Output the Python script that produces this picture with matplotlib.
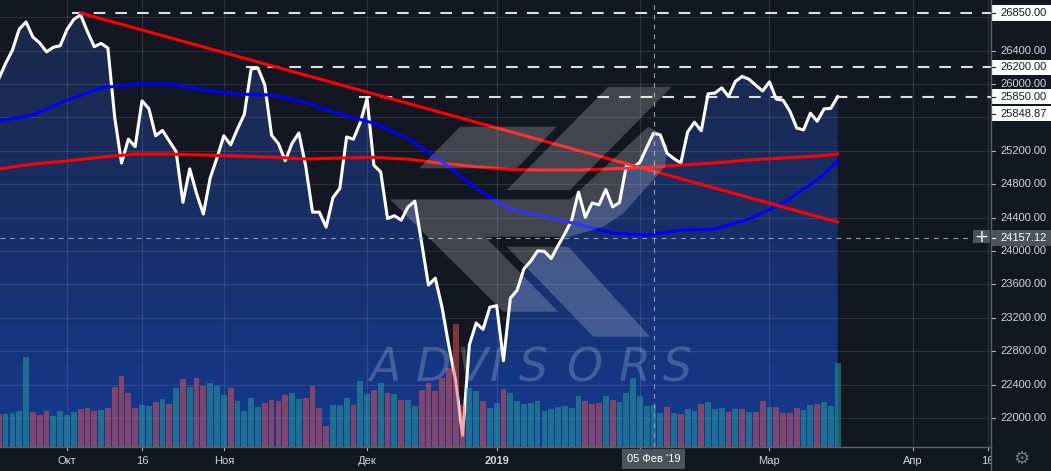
import numpy as np
import matplotlib
matplotlib.use("Agg")
import matplotlib.pyplot as plt
from matplotlib.patches import Polygon, Rectangle
from matplotlib.lines import Line2D
from matplotlib.colors import LinearSegmentedColormap
import matplotlib.transforms as mtransforms

plt.rcParams['font.family'] = ['Liberation Sans', 'DejaVu Sans']
plt.rcParams['lines.scale_dashes'] = False

# ---------------- data ----------------
START_DATE = '2018-09-17'
HOLIDAYS = ['2018-11-22', '2018-12-05', '2018-12-25', '2019-01-01',
            '2019-01-21', '2019-02-18']

# daily closes, 2018-09-17 .. 2019-03-15 (trading days)
closes = [
    26062, 26246, 26405, 26657, 26743, 26562, 26492, 26385, 26440, 26458,
    26651, 26774, 26828, 26627, 26447, 26487, 26431, 25599, 25053, 25340,
    25250, 25798, 25706, 25380, 25444, 25317, 25191, 24583, 24984, 24688,
    24443, 24875, 25116,
    25380, 25271, 25462, 25636, 26180, 26191, 25989, 25387, 25286, 25081,
    25289, 25413, 25018, 24466, 24465, 24286, 24640, 24749, 25366, 25339,
    25538,
    25826, 25027, 24947, 24389, 24423, 24370, 24527, 24597, 24100, 23592,
    23675, 23323, 22859, 22445, 21792, 22878, 23138, 23062, 23327,
    23346, 22686, 23433, 23531, 23787, 23879, 24001, 23996, 23910, 24065,
    24207, 24370, 24706, 24404, 24575, 24553, 24737, 24528, 24579, 25014,
    24999,
    25064, 25239, 25411, 25390, 25169, 25106, 25053, 25425, 25543, 25439,
    25883, 25891, 25954, 25850, 26031, 26091, 26057, 25985, 25916,
    26026, 25819, 25806, 25673, 25473, 25450, 25650, 25554, 25702, 25709,
    25849,
]

# volume (relative units) and candle direction (1 = up, 0 = down)
volumes = [
    33, 33, 34, 36, 90, 35, 32, 36, 31, 36, 32,
    35, 38, 39, 36, 37, 39, 60, 71, 54, 39,
    42, 41, 45, 48, 43, 59, 68, 60, 69, 61,
    64, 61, 52, 59, 46, 36, 49, 40, 44, 47,
    46, 52, 54, 48, 49, 61, 39, 21, 42, 42,
    49, 42, 66, 53, 57, 64, 54, 53, 47, 47,
    41, 57, 64, 56, 69, 79, 123, 42, 59, 56,
    46, 39, 44, 58, 54, 46, 43, 44, 46, 36,
    38, 40, 41, 39, 51, 46, 43, 44, 51, 47,
    45, 54, 69, 51, 41, 42, 34, 40, 34, 33,
    38, 36, 43, 45, 38, 39, 35, 38, 38, 35,
    35, 46, 40, 40, 34, 34, 39, 37, 42, 43,
    45, 41, 84,
]
vol_up = [
    0, 1, 1, 1, 1, 0, 0, 0, 1, 1, 1,
    1, 0, 0, 0, 1, 0, 0, 0, 0, 0,
    1, 1, 0, 1, 0, 1, 0, 1, 0, 0,
    1, 1, 1, 0, 1, 1, 1, 1, 0, 0,
    0, 0, 1, 1, 0, 0, 0, 0, 1, 1,
    1, 0, 1, 1, 0, 1, 0, 1, 0, 1,
    1, 0, 0, 0, 0, 0, 0, 0, 1, 1,
    0, 1, 1, 0, 1, 1, 1, 1, 1, 1,
    1, 1, 1, 1, 1, 0, 0, 0, 1, 0,
    1, 1, 1, 1, 1, 1, 1, 0, 1, 0,
    1, 1, 0, 1, 1, 1, 0, 1, 0, 1,
    0, 0, 1, 0, 0, 0, 0, 1, 1, 0,
    1, 1, 1,
]

# moving averages sampled every 5 trading days
ma_idx = [0, 5, 10, 15, 20, 25, 30, 35, 40, 45, 50, 55, 60, 65, 70, 75,
          80, 85, 90, 95, 100, 105, 110, 115, 120, 123]
ma_blue = [25557, 25628, 25808, 25952, 26000, 26000, 25930, 25880, 25868,
           25780, 25640, 25530, 25350, 25070, 24750, 24500, 24414, 24320,
           24215, 24190, 24250, 24263, 24383, 24575, 24850, 25078]
ma_red = [24982, 25042, 25078, 25125, 25161, 25161, 25149, 25137, 25125,
          25102, 25113, 25121, 25100, 25050, 25010, 24975, 24970, 24970,
          24985, 25000, 25030, 25055, 25090, 25113, 25137, 25161]

# drawn trend line and horizontal levels
trend_idx = [12, 123]
trend_val = [26850, 24347]
level_vals = [26850, 26200, 25850]
level_from = [10.8, 36.3, 52.8]

price_ticks = [22000, 22400, 22800, 23200, 23600, 24000, 24400, 24800,
               25200, 25600, 26000, 26400, 26800]
time_tick_dates = ['2018-10-01', '2018-10-16', '2018-11-01', '2018-12-03',
                   '2019-01-02', '2019-02-01', '2019-03-01', '2019-04-01',
                   '2019-04-16']
time_tick_labels = ['Окт', '16', 'Ноя', 'Дек', '2019', 'Фев', 'Мар', 'Апр', '16']

cross_date = '2019-02-05'
cross_date_label = "05 Фев '19"
cross_price = 24157.12
last_price = 25848.87


def tidx(d):
    return int(np.busday_count(START_DATE, d, holidays=HOLIDAYS))


# ---------------- layout ----------------
W, H = 1051, 471
PW, PH, AH = 991, 447, 24
BG = '#131722'
TXT = '#d1d4dc'
X0, X1 = 0.18, 145.48
Y0, Y1 = 21653, 27006
ppx = (Y1 - Y0) / PH  # price units per pixel
xpx = (X1 - X0) / PW  # index units per pixel

fig = plt.figure(figsize=(W / 100, H / 100), dpi=100, facecolor=BG)
ax = fig.add_axes([0, AH / H, PW / W, PH / H])
ax.set_facecolor(BG)

x = np.arange(len(closes))

# gradient area under price
fill_poly = Polygon([(x[0], Y0)] + list(zip(x, closes)) + [(x[-1], Y0)],
                    closed=True, transform=ax.transData, fc='none', ec='none')
ax.add_patch(fill_poly)
grad = np.linspace(0, 1, 256).reshape(-1, 1)
cmap = LinearSegmentedColormap.from_list('tvfill', ['#143a91', '#182f66', '#1b2747'])
im = ax.imshow(grad, extent=[X0, X1, Y0, Y1], origin='lower', cmap=cmap,
               aspect='auto', zorder=1, interpolation='bilinear')
im.set_clip_path(fill_poly)

# grid
ax.set_xticks([tidx(d) for d in time_tick_dates])
ax.set_yticks(price_ticks)
ax.grid(True, color='white', alpha=0.11, lw=0.8)
ax.set_axisbelow(False)
ax.tick_params(length=0, labelbottom=False, labelleft=False)
for s in ax.spines.values():
    s.set_visible(False)

# lines
ax.plot(x, closes, color='white', lw=2.2, zorder=4)
ax.plot(ma_idx, ma_red, color='#ff0000', lw=2.2, zorder=5)
ax.plot(ma_idx, ma_blue, color='#0000ff', lw=2.2, zorder=5)
ax.plot(trend_idx, trend_val, color='#ff0000', lw=2.2, zorder=5)
for v, f in zip(level_vals, level_from):
    ax.plot([f, X1], [v, v], color='#dedede', lw=1.5, dashes=(8.4, 7.2), zorder=3.5)
ax.set_xlim(X0, X1)
ax.set_ylim(Y0, Y1)

# volume
axv = ax.twinx()
vcol = ['#26a69a' if u else '#ef5350' for u in vol_up]
axv.bar(x, volumes, width=0.85, color=vcol, alpha=0.5, zorder=2)
axv.axis('off')

# crosshair
ci = tidx(cross_date)
axv.axvline(ci, color='#9598a1', lw=0.8, dashes=(3.5, 3.5), zorder=6)
hl = Line2D([0, 968 / PW], [cross_price, cross_price],
            transform=mtransforms.blended_transform_factory(ax.transAxes, ax.transData),
            color='#9598a1', lw=0.8, dashes=(3.5, 3.5), zorder=6)
axv.add_line(hl)
axv.set_ylim(0, PH)
axv.set_xlim(X0, X1)

# ---------------- price scale ----------------
axr = fig.add_axes([PW / W, AH / H, (W - PW) / W, PH / H])
axr.set_xlim(0, W - PW)
axr.set_ylim(Y0, Y1)
axr.axis('off')

hp = 7.8 * ppx
boxes = [(v, v, 'white', BG) for v in level_vals]
boxes.append((last_price, level_vals[2] - 17 * ppx, 'white', BG))
boxes.append((cross_price, cross_price, '#4c525e', 'white'))

for p in price_ticks:
    # labels lying under a highlighted box are hidden, as on the reference
    hidden = any(abs(p - yb) < hp * 0.75 for _, yb, _, _ in boxes)
    axr.plot([0, 4], [p, p], color='#b2b5be', lw=0.8, zorder=2)
    if not hidden:
        axr.text(9, p, f'{p:.2f}', va='center', ha='left', fontsize=8, color=TXT, zorder=2)

for val, ypos, fc, tc in boxes:
    axr.add_patch(Rectangle((0, ypos - hp), W - PW, 2 * hp, fc=fc, ec='none', zorder=5))
    axr.plot([0, 4], [ypos, ypos], color=tc, lw=0.8, zorder=6)
    axr.text(9, ypos, f'{val:.2f}', va='center', ha='left', fontsize=8, color=tc, zorder=6)

# ---------------- time scale ----------------
axb = fig.add_axes([0, 0, PW / W, AH / H])
axb.set_xlim(X0, X1)
axb.set_ylim(0, AH)
axb.axis('off')
for d, lab in zip(time_tick_dates, time_tick_labels):
    i = tidx(d)
    axb.plot([i, i], [AH, AH - 3], color='#b2b5be', lw=0.8)
    if abs(i - ci) * (1 / xpx) < 40:   # covered by the crosshair date label
        continue
    axb.text(i, 10, lab, ha='center', va='center', fontsize=8, color=TXT,
             clip_on=True, fontweight='bold' if lab == '2019' else 'normal')
axb.text(ci, 12.5, cross_date_label, ha='center', va='center', fontsize=8,
         color='white', zorder=10,
         bbox=dict(boxstyle='square,pad=0.45', fc='#4c525e', ec='none'))

# borders
fig.add_artist(Line2D([PW / W, PW / W], [0, 1], transform=fig.transFigure,
                      color='#5d606b', lw=1, zorder=20))
fig.add_artist(Line2D([0, PW / W], [AH / H, AH / H], transform=fig.transFigure,
                      color='#5d606b', lw=1, zorder=20))

# crosshair "+" button
fig.add_artist(Rectangle((973 / W, (H - 243) / H), 17 / W, 13 / H,
                         transform=fig.transFigure, fc='#4c525e', ec='none', zorder=21))
fig.text(981.5 / W, (H - 236.5) / H, '+', ha='center', va='center',
         fontsize=12, color='white', zorder=22, family='DejaVu Sans')

# settings gear
fig.text(1021 / W, (H - 459) / H, '⚙', ha='center', va='center', fontsize=13,
         color='#787b86', family='DejaVu Sans', zorder=22)

# ---------------- watermark ----------------
wm_polys = [
    [(460, 126.7), (556.7, 126.7), (516.7, 168.3), (419.3, 168.3)],
    [(608.3, 86.7), (671.7, 86.7), (570, 190), (506.7, 190)],
    [(390, 199.3), (570, 199.3), (648.3, 126.7), (660, 133), (667.7, 146.7),
     (665, 166.7), (623.3, 213.3), (603.3, 226.7), (570, 236.7), (485, 236.7),
     (558.3, 311.7), (503.3, 311.7)],
    [(506.7, 246.7), (568.3, 246.7), (650, 336.7), (593.3, 336.7)],
]
for poly in wm_polys:
    fig.add_artist(Polygon([(px / W, 1 - py / H) for px, py in poly], closed=True,
                           transform=fig.transFigure, fc=(1, 1, 1, 0.2), ec='none', zorder=15))
wm_letters = list('ADVISORS')
wm_centers = [385, 433, 472, 497, 533, 584, 635, 677]
for ch, cx in zip(wm_letters, wm_centers):
    fig.text(cx / W, 1 - 381 / H, ch, ha='center', va='baseline', fontsize=33,
             style='italic', family='DejaVu Sans',
             color=(1, 1, 1, 0.2), zorder=15)

fig.savefig('out.png', dpi=100, facecolor=BG)
